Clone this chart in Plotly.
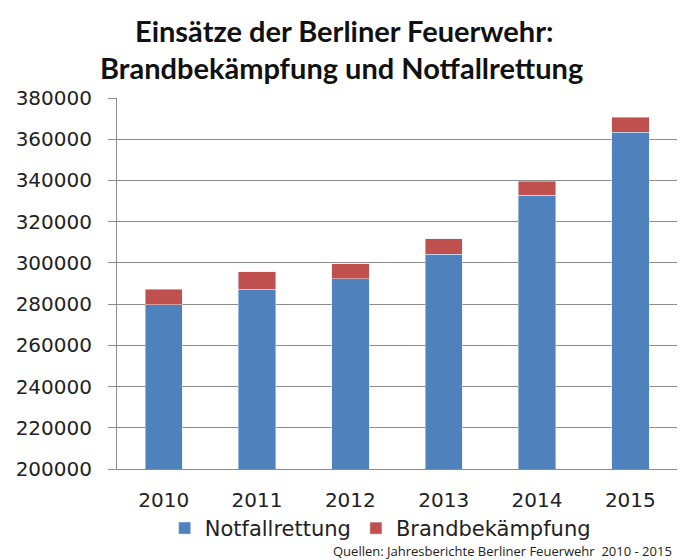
import plotly.graph_objects as go

years = ["2010", "2011", "2012", "2013", "2014", "2015"]
notfall = [279600, 287300, 292200, 304300, 332900, 363500]
brand = [7600, 8400, 7400, 7300, 6800, 7100]

fig = go.Figure()
fig.add_trace(go.Bar(x=years, y=notfall, name="Notfallrettung", marker_color="#4f81bd", width=0.4))
fig.add_trace(go.Bar(x=years, y=brand, name="Brandbekämpfung", marker_color="#c0504d", width=0.4))

title_font = dict(family="Lato", size=29, color="#111")
fig.update_layout(
    barmode="stack",
    width=682, height=560,
    margin=dict(l=117, r=5, t=98, b=91),
    paper_bgcolor="white", plot_bgcolor="white",
    font=dict(family="DejaVu Sans", color="#222"),
    showlegend=True,
    legend=dict(orientation="h", x=0.47, xanchor="center", y=-0.105, yanchor="top",
                bgcolor="rgba(0,0,0,0)",
                font=dict(size=21, family="DejaVu Sans"), itemwidth=30, traceorder="normal"),
    yaxis=dict(range=[200000, 380000], dtick=20000, tickformat="d",
               showgrid=True, gridcolor="#8c8c8c", gridwidth=1,
               showline=True, linecolor="#8c8c8c", ticks="outside", ticklen=8, tickcolor="#8c8c8c",
               ticklabelstandoff=12,
               tickfont=dict(size=20), zeroline=False),
    xaxis=dict(showline=True, linecolor="#8c8c8c", tickfont=dict(size=20), ticks="",
               ticklabelstandoff=13),
    annotations=[
        dict(text="<b>Einsätze der Berliner Feuerwehr:</b>", xref="paper", yref="paper",
             x=0.405, y=1.183, xanchor="center", yanchor="middle", showarrow=False, font=title_font),
        dict(text="<b>Brandbekämpfung und Notfallrettung</b>", xref="paper", yref="paper",
             x=0.40, y=1.081, xanchor="center", yanchor="middle", showarrow=False, font=title_font),
        dict(text="Quellen: Jahresberichte Berliner Feuerwehr  2010 - 2015",
             xref="paper", yref="paper", x=0.382, y=-0.222, xanchor="left", yanchor="middle",
             showarrow=False, font=dict(size=13, family="Open Sans", color="#222")),
    ],
)

fig.write_html("out.html")
